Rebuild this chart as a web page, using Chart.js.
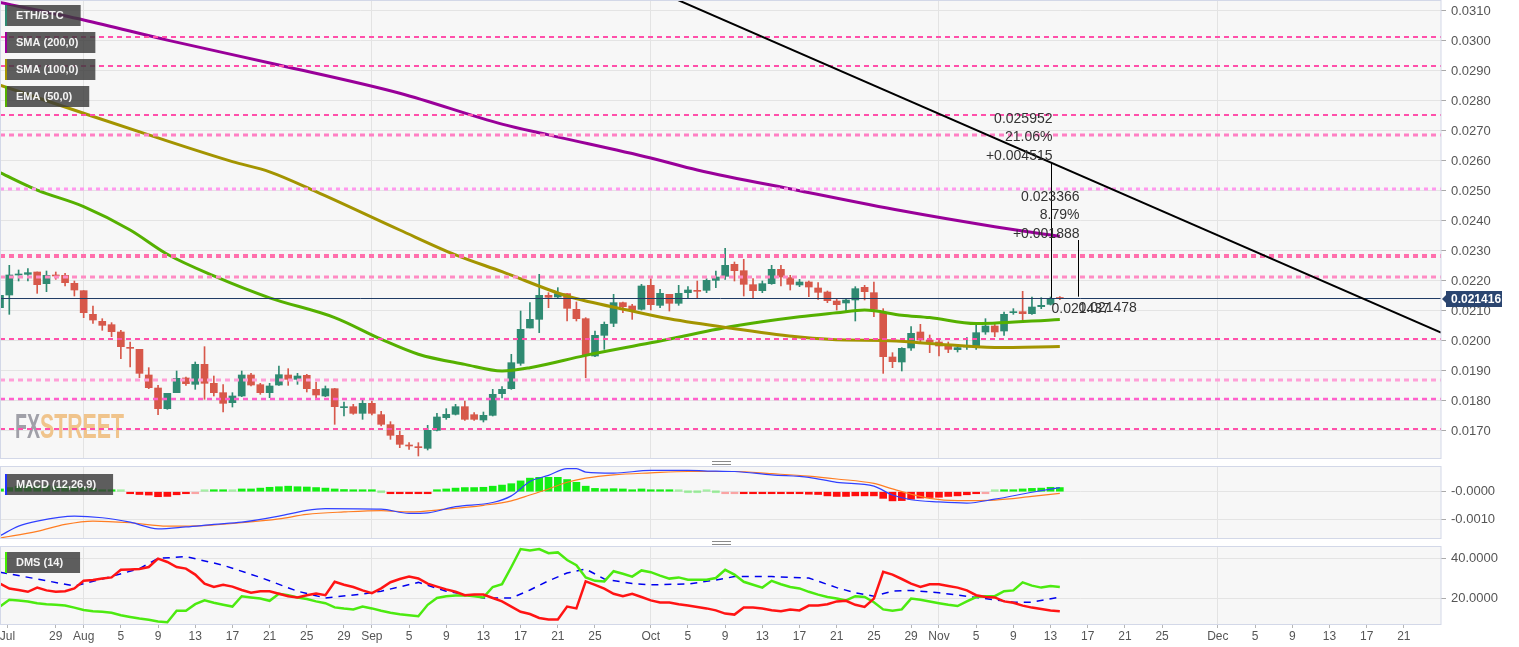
<!DOCTYPE html>
<html>
<head>
<meta charset="utf-8">
<title>ETH/BTC</title>
<script src="https://cdn.jsdelivr.net/npm/chart.js@4.4.0/dist/chart.umd.min.js"></script>
<style>
    body { margin: 0; background: #fff; width: 1519px; height: 647px; overflow: hidden; }
    .pane { position: absolute; left: 0; width: 1519px; }
    .grip { position: absolute; left: 712px; width: 19px; height: 2px; border-top: 1px solid #8a8a8a; border-bottom: 1px solid #8a8a8a; }
</style>
</head>
<body>
<div class="pane" style="top:0;height:460px"><canvas id="priceChart"></canvas></div>
<div class="pane" style="top:462px;height:78px"><canvas id="macdChart"></canvas></div>
<div class="pane" style="top:544px;height:103px"><canvas id="dmsChart"></canvas></div>
<div class="grip" style="top:461px"></div>
<div class="grip" style="top:541px"></div>

<script>
// daily candles, index 0 = 23 Jul, last one = 14 Nov
const candleOpen = [
    0.021111, 0.021533, 0.022200, 0.022222, 0.022300, 0.021911, 0.022189, 0.022189, 0.021922, 0.021678,
    0.020889, 0.020656, 0.020544, 0.020300, 0.019789, 0.019722, 0.018867, 0.018433, 0.017744, 0.018278,
    0.018767, 0.018556, 0.019222, 0.018589, 0.018278, 0.017944, 0.018167, 0.018867, 0.018544, 0.018278,
    0.018533, 0.018867, 0.018722, 0.018856, 0.018389, 0.018167, 0.018411, 0.017778, 0.017811, 0.017589,
    0.017922, 0.017544, 0.017211, 0.016856, 0.016533, 0.016478, 0.016422, 0.017022, 0.017444, 0.017556,
    0.017811, 0.017544, 0.017367, 0.017522, 0.018244, 0.018411, 0.019256, 0.020433, 0.020722, 0.021522,
    0.021467, 0.021578, 0.021056, 0.020744, 0.019500, 0.020189, 0.020589, 0.021278, 0.021167, 0.021056,
    0.021856, 0.021189, 0.021556, 0.021256, 0.021611, 0.021689, 0.021689, 0.022022, 0.022156, 0.022556,
    0.022344, 0.021878, 0.021678, 0.021911, 0.022389, 0.022111, 0.021867, 0.021967, 0.021767, 0.021633,
    0.021333, 0.021267, 0.021367, 0.021789, 0.021611, 0.020922, 0.019467, 0.019300, 0.019767, 0.020300,
    0.020033, 0.019967, 0.019889, 0.019711, 0.019800, 0.019811, 0.020300, 0.020500, 0.020333, 0.020944,
    0.020978, 0.020911, 0.021144, 0.021222, 0.021437
];
const candleClose = [
    0.021522, 0.022200, 0.022222, 0.022278, 0.021878, 0.022189, 0.022167, 0.021944, 0.021700, 0.020944,
    0.020700, 0.020522, 0.020311, 0.019811, 0.019756, 0.018922, 0.018444, 0.017744, 0.018256, 0.018756,
    0.018578, 0.019222, 0.018589, 0.018278, 0.017922, 0.018167, 0.018867, 0.018533, 0.018278, 0.018500,
    0.018878, 0.018722, 0.018833, 0.018411, 0.018200, 0.018411, 0.017811, 0.017811, 0.017589, 0.017922,
    0.017589, 0.017222, 0.016856, 0.016556, 0.016500, 0.016444, 0.017022, 0.017467, 0.017556, 0.017811,
    0.017389, 0.017389, 0.017522, 0.018222, 0.018389, 0.019278, 0.020389, 0.020722, 0.021522, 0.021456,
    0.021578, 0.021089, 0.020744, 0.019522, 0.020189, 0.020556, 0.021278, 0.021144, 0.021033, 0.021833,
    0.021211, 0.021589, 0.021256, 0.021589, 0.021700, 0.021656, 0.022022, 0.022133, 0.022522, 0.022344,
    0.021889, 0.021678, 0.021911, 0.022389, 0.022133, 0.021889, 0.021967, 0.021800, 0.021622, 0.021344,
    0.021211, 0.021367, 0.021744, 0.021644, 0.021056, 0.019478, 0.019311, 0.019756, 0.020256, 0.020033,
    0.019967, 0.019833, 0.019722, 0.019778, 0.019833, 0.020278, 0.020500, 0.020300, 0.020889, 0.020978,
    0.020911, 0.021133, 0.021189, 0.021389, 0.021416
];
const candleHigh = [
    0.021611, 0.022522, 0.022367, 0.022411, 0.022300, 0.022333, 0.022300, 0.022256, 0.022000, 0.021678,
    0.021167, 0.020744, 0.020611, 0.020356, 0.019967, 0.019722, 0.019111, 0.018522, 0.018256, 0.019000,
    0.018800, 0.019300, 0.019811, 0.018833, 0.018544, 0.018278, 0.019000, 0.018922, 0.018589, 0.018589,
    0.019167, 0.019078, 0.018922, 0.018889, 0.018633, 0.018500, 0.018422, 0.017967, 0.017889, 0.018033,
    0.018000, 0.017656, 0.017311, 0.017000, 0.016611, 0.016611, 0.017189, 0.017589, 0.017744, 0.017889,
    0.018000, 0.017611, 0.017633, 0.018389, 0.018478, 0.019556, 0.021000, 0.021278, 0.022222, 0.021611,
    0.021778, 0.021578, 0.021300, 0.020778, 0.020333, 0.020633, 0.021556, 0.021300, 0.021222, 0.021889,
    0.022078, 0.021722, 0.021556, 0.021856, 0.021811, 0.022000, 0.022078, 0.022333, 0.023089, 0.022633,
    0.022722, 0.022078, 0.022000, 0.022522, 0.022522, 0.022189, 0.022056, 0.022000, 0.021944, 0.021667,
    0.021389, 0.021389, 0.021811, 0.021856, 0.021967, 0.021078, 0.019611, 0.019778, 0.020478, 0.020556,
    0.020200, 0.020078, 0.019967, 0.019856, 0.020111, 0.020556, 0.020744, 0.020556, 0.020967, 0.021078,
    0.021656, 0.021467, 0.021444, 0.021467, 0.021478
];
const candleLow = [
    0.021000, 0.020889, 0.022000, 0.022000, 0.021589, 0.021644, 0.022056, 0.021833, 0.021500, 0.020778,
    0.020589, 0.020356, 0.020144, 0.019411, 0.019133, 0.018778, 0.018411, 0.017544, 0.017722, 0.018278,
    0.018522, 0.018389, 0.018056, 0.018167, 0.017633, 0.017800, 0.018144, 0.018500, 0.018222, 0.018111,
    0.018522, 0.018522, 0.018556, 0.018300, 0.018056, 0.018144, 0.017222, 0.017500, 0.017556, 0.017389,
    0.017533, 0.017167, 0.016722, 0.016444, 0.016389, 0.016167, 0.016367, 0.017000, 0.017389, 0.017533,
    0.017356, 0.017356, 0.017300, 0.017500, 0.018100, 0.018389, 0.019189, 0.020433, 0.020278, 0.021111,
    0.021444, 0.020667, 0.020667, 0.018778, 0.019478, 0.019722, 0.020478, 0.020944, 0.020722, 0.021033,
    0.021033, 0.021111, 0.021000, 0.021189, 0.021411, 0.021422, 0.021611, 0.021778, 0.022056, 0.022000,
    0.021500, 0.021411, 0.021611, 0.021889, 0.021833, 0.021700, 0.021811, 0.021478, 0.021389, 0.021278,
    0.021033, 0.020944, 0.020667, 0.021367, 0.020811, 0.018922, 0.019111, 0.019000, 0.019689, 0.019944,
    0.019611, 0.019500, 0.019611, 0.019633, 0.019722, 0.019722, 0.020222, 0.020144, 0.020189, 0.020889,
    0.020711, 0.020889, 0.021078, 0.021200, 0.021380
];

// moving averages, read at a few days each
const sma200Days = [0, 9, 18, 30, 43, 54, 59, 70, 75, 86, 97, 107, 114];
const sma200 = [0.03128, 0.0307, 0.03003, 0.0292, 0.02826, 0.02723, 0.02687, 0.0261, 0.0257, 0.02501, 0.02434, 0.02381, 0.02349];
const sma100Days = [0, 9, 16, 25, 29, 34, 43, 49, 54, 61, 68, 72, 79, 86, 91, 95, 100, 107, 114];
const sma100 = [0.02853, 0.02759, 0.02687, 0.02598, 0.02564, 0.02498, 0.0237, 0.02287, 0.02231, 0.0215, 0.0210, 0.02074, 0.02041, 0.02013, 0.02003, 0.02002, 0.01992, 0.01978, 0.01982];
const ema50Days = [0, 4, 9, 14, 18, 23, 29, 36, 41, 45, 50, 54, 57, 63, 70, 79, 86, 90, 93, 97, 100, 105, 114];
const ema50 = [0.02561, 0.02503, 0.02448, 0.0237, 0.02289, 0.02217, 0.02144, 0.02078, 0.02006, 0.01956, 0.01922, 0.019, 0.01911, 0.01952, 0.01994, 0.0205, 0.02081, 0.02094, 0.02103, 0.02086, 0.02078, 0.02058, 0.02072];

// horizontal levels, trend line, last price, measure tool
const levels = [0.030133, 0.029167, 0.027533, 0.026867, 0.025067, 0.022833, 0.022133, 0.020067, 0.0187, 0.018067, 0.017067];
const lastPrice = 0.021416;
const trendDays = [60, 155];
const trendValues = [0.03311, 0.02028];
const measureDays = [113, 116];
const measureFrom = [0.021437, 0.021478];
const measureTo = [0.025952, 0.023366];

// MACD (12,26,9)
const macdHist = [
    0.0001, 0.00015, 0.0002, 0.00022, 0.00022, 0.00022, 0.0002, 0.0002, 0.00017, 0.00016,
    0.00012, 0.00007, 0.00004, 0.00001, -0.00002, -0.0001, -0.00012, -0.00018, -0.00017, -0.00011,
    -0.00006, -0.00001, 0.00001, 0.00002, 0.00002, 0.00001, 0.0001, 0.0001, 0.00013, 0.00016,
    0.00018, 0.0002, 0.00018, 0.00017, 0.00015, 0.00013, 0.0001, 0.00008, 0.00005, 0.00005,
    0.00002, 0.0, -0.00002, -0.00005, -0.00005, -0.00005, -0.00002, 0.00002, 0.0001, 0.00013,
    0.00015, 0.00015, 0.00016, 0.0002, 0.00024, 0.00029, 0.00039, 0.00049, 0.00052, 0.00052,
    0.00052, 0.00044, 0.00034, 0.0002, 0.00012, 0.0001, 0.00011, 0.0001, 0.00007, 0.0001,
    0.00006, 0.00005, 0.00002, 0.00001, 0.0, 0.0, 0.00001, 0.0, -0.00001, -0.00001,
    -0.00002, -0.00003, -0.00005, -0.00004, -0.00005, -0.00006, -0.00007, -0.00009, -0.0001, -0.00015,
    -0.00017, -0.00017, -0.00015, -0.00015, -0.00015, -0.00024, -0.00033, -0.00032, -0.00027, -0.00023,
    -0.00021, -0.0002, -0.00017, -0.00015, -0.00011, -0.00006, -0.00001, 0.00001, 0.00002, 0.00005,
    0.0001, 0.00012, 0.00013, 0.00016, 0.00015
];
const macdDays = [0, 2, 4, 8, 11, 14, 17, 20, 23, 26, 30, 33, 35, 41, 44, 46, 49, 53, 55, 57, 59, 61, 62, 63, 66, 70, 74, 77, 79, 83, 87, 90, 94, 96, 98, 101, 104, 107, 111, 114];
const macdLine = [-0.00159, -0.00124, -0.00106, -0.00088, -0.00094, -0.0011, -0.00134, -0.00127, -0.00118, -0.0011, -0.00088, -0.00067, -0.00061, -0.00063, -0.00078, -0.00076, -0.00054, -0.00039, -0.00015, 0.00037, 0.00059, 0.00083, 0.00083, 0.00071, 0.00067, 0.00077, 0.00077, 0.00074, 0.00073, 0.00061, 0.00052, 0.00034, 0.0002, -0.00012, -0.00029, -0.00037, -0.00041, -0.00027, -0.00002, 0.00015];
const signalDays = [0, 4, 7, 10, 14, 18, 22, 26, 30, 33, 37, 41, 44, 48, 52, 55, 57, 59, 61, 63, 66, 70, 74, 79, 83, 87, 90, 94, 96, 98, 100, 103, 107, 111, 114];
const signalLine = [-0.00167, -0.00143, -0.00118, -0.00106, -0.00112, -0.00124, -0.00122, -0.00112, -0.00098, -0.00082, -0.00073, -0.00068, -0.00073, -0.00063, -0.00049, -0.00033, -0.00012, 0.0001, 0.00034, 0.00049, 0.00061, 0.00068, 0.00073, 0.00073, 0.00065, 0.00056, 0.00046, 0.0003, 0.0001, -0.00009, -0.00024, -0.00032, -0.0003, -0.00017, -0.00006];

// DMS (14)
const diPlus = [
    15.7, 19.1, 18.8, 18.3, 17.4, 16.9, 16.6, 16.2, 15.2, 14.0,
    13.4, 13.1, 12.6, 11.4, 10.5, 9.7, 9.1, 8.3, 7.9, 13.6,
    13.6, 16.9, 18.8, 17.6, 16.6, 15.7, 20.9, 20.3, 19.7, 18.6,
    22.1, 21.4, 20.3, 19.5, 18.3, 17.4, 15.3, 14.7, 14.3, 15.7,
    14.8, 13.6, 12.6, 11.9, 11.4, 10.9, 16.6, 20.0, 20.9, 21.2,
    21.4, 20.9, 20.3, 25.5, 26.9, 35.5, 44.5, 43.8, 44.5, 42.4,
    42.8, 39.0, 36.4, 30.3, 28.6, 28.3, 33.4, 32.1, 30.7, 33.8,
    32.9, 31.2, 29.7, 30.3, 29.1, 29.1, 29.1, 30.0, 34.1, 31.7,
    28.1, 26.6, 25.2, 28.6, 26.9, 25.5, 24.8, 23.1, 21.7, 20.5,
    19.7, 18.8, 20.9, 20.5, 17.9, 14.3, 13.6, 14.3, 19.7, 19.1,
    18.3, 17.4, 16.6, 16.0, 18.3, 20.5, 20.9, 20.9, 23.4, 23.8,
    27.8, 26.2, 25.2, 26.0, 25.5
];
const diMinus = [
    27.2, 24.7, 24.0, 23.1, 25.2, 23.8, 23.1, 23.4, 24.8, 28.6,
    29.0, 29.7, 30.3, 34.1, 34.3, 34.5, 35.5, 39.7, 38.0, 35.5,
    34.7, 31.7, 27.2, 25.5, 26.6, 25.7, 24.0, 22.6, 23.4, 23.4,
    22.1, 20.9, 20.3, 21.4, 22.2, 21.4, 28.1, 26.6, 25.5, 23.8,
    22.4, 24.8, 27.9, 29.5, 30.7, 29.8, 27.2, 25.7, 24.3, 23.1,
    21.4, 21.7, 21.7, 20.0, 18.3, 15.7, 13.1, 12.0, 10.0, 9.3,
    9.3, 15.7, 14.8, 28.3, 26.6, 24.7, 22.1, 20.9, 22.1, 20.5,
    18.8, 17.8, 17.8, 16.9, 16.2, 15.5, 14.8, 13.8, 12.2, 11.7,
    15.2, 15.3, 14.8, 13.9, 13.4, 14.3, 13.8, 16.2, 16.2, 16.9,
    18.3, 18.6, 16.6, 15.5, 19.7, 33.1, 31.7, 29.5, 27.2, 25.5,
    26.9, 26.9, 26.0, 25.2, 23.8, 21.4, 20.5, 20.3, 18.3, 17.6,
    16.2, 15.2, 14.5, 13.8, 13.4
];
const adxDays = [0, 4, 8, 11, 15, 17, 20, 24, 28, 32, 35, 39, 41, 45, 48, 52, 55, 57, 59, 61, 63, 65, 68, 70, 74, 77, 79, 83, 87, 90, 92, 94, 96, 98, 101, 105, 109, 111, 114];
const adx = [32.9, 29.5, 26.0, 29.5, 34.7, 39.8, 40.7, 36.4, 30.3, 23.4, 20.0, 22.0, 23.4, 27.8, 23.4, 20.0, 20.0, 24.0, 28.6, 32.5, 34.5, 29.5, 27.2, 26.6, 27.0, 29.0, 30.7, 30.7, 30.0, 25.2, 22.6, 20.9, 23.4, 23.8, 22.6, 20.3, 17.9, 17.9, 20.5];

// axes
const xTickDays = [0.8, 6, 9, 13, 17, 21, 25, 29, 33, 37, 40, 44, 48, 52, 56, 60, 64, 70, 74, 78, 82, 86, 90, 94, 98, 101, 105, 109, 113, 117, 121, 125, 131, 135, 139, 143, 147, 151];
const xTickLabels = ["Jul", "29", "Aug", "5", "9", "13", "17", "21", "25", "29", "Sep", "5", "9", "13", "17", "21", "25", "Oct", "5", "9", "13", "17", "21", "25", "29", "Nov", "5", "9", "13", "17", "21", "25", "Dec", "5", "9", "13", "17", "21"];
const monthStarts = [9, 40, 70, 101, 131];
const priceTicks = [0.017, 0.018, 0.019, 0.020, 0.021, 0.022, 0.023, 0.024, 0.025, 0.026, 0.027, 0.028, 0.029, 0.030, 0.031];
const macdTicks = [-0.001, 0];
const dmsTicks = [20, 40];

const priceTags = ["ETH/BTC", "SMA (200,0)", "SMA (100,0)", "EMA (50,0)"];
const priceTagColors = ["#2f8a72", "#990099", "#a39400", "#55b000"];

const FONT = "'Liberation Sans', Arial, Helvetica, sans-serif";
const UP = "#2f8a72";
const DOWN = "#d7584a";
const levelStyles = [
    { c: "#ff4faa", w: 2, d: [5, 4] },
    { c: "#ff4faa", w: 2, d: [5, 4] },
    { c: "#ff4faa", w: 2, d: [5, 4] },
    { c: "#ff80c4", w: 3, d: [5, 4] },
    { c: "#ff99ee", w: 3, d: [4, 4] },
    { c: "#ff70ac", w: 4, d: [5, 4] },
    { c: "#ff8cc4", w: 3, d: [5, 4] },
    { c: "#ff4faa", w: 2, d: [5, 4] },
    { c: "#ffa0d8", w: 3, d: [5, 4] },
    { c: "#ff5fcc", w: 2.5, d: [5, 4] },
    { c: "#ff4faa", w: 2, d: [5, 4] }
];

Chart.defaults.font.family = FONT;
Chart.defaults.animation = false;
Chart.defaults.plugins.legend.display = false;
Chart.defaults.plugins.tooltip.enabled = false;
Chart.defaults.elements.point.radius = 0;

function points(days, values) {
    return days.map((d, i) => ({ x: d, y: values[i] }));
}

function daily(values) {
    return values.map((v, i) => ({ x: i, y: v }));
}

function xScale(showLabels) {
    return {
        type: "linear",
        min: 0,
        max: 155,
        offset: false,
        afterBuildTicks: (s) => { s.ticks = xTickDays.map((v) => ({ value: v })); },
        afterFit: (s) => {
            s.paddingLeft = 0;
            s.paddingRight = 0;
            s.height = showLabels ? 23 : 0;
        },
        grid: {
            offset: false,
            color: (c) => (c.tick && monthStarts.includes(c.tick.value)) ? "#e3e3e3" : "rgba(0,0,0,0)",
            tickColor: "#b5b5b5",
            drawTicks: showLabels,
            tickLength: 4
        },
        border: { display: false },
        ticks: {
            display: showLabels,
            autoSkip: false,
            maxRotation: 0,
            padding: 1,
            color: "#555",
            font: { size: 12 },
            callback: (v, i) => xTickLabels[i]
        }
    };
}

function yScale(min, max, ticks, format) {
    return {
        position: "right",
        min: min,
        max: max,
        afterBuildTicks: (s) => { s.ticks = ticks.map((v) => ({ value: v })); },
        afterFit: (s) => {
            s.width = 78;
            s.paddingTop = 0;
            s.paddingBottom = 0;
        },
        grid: { color: "#e4e4e4", tickColor: "#aaa", tickLength: 5 },
        border: { display: false },
        ticks: { color: "#555", padding: 5, font: { size: 13 }, callback: format }
    };
}

function drawTag(ctx, x, y, text, accent) {
    ctx.save();
    ctx.font = "bold 11px " + FONT;
    const w = ctx.measureText(text).width + 28;
    ctx.fillStyle = "rgba(58,58,58,0.82)";
    ctx.fillRect(x, y, w, 21);
    ctx.fillStyle = accent;
    ctx.fillRect(x, y, 2, 21);
    ctx.fillStyle = "#f4f4f4";
    ctx.textBaseline = "middle";
    ctx.fillText(text, x + 11, y + 11);
    ctx.restore();
}

// background + frame of every pane
const panePlugin = {
    id: "pane",
    beforeDraw(chart) {
        const a = chart.chartArea;
        chart.ctx.save();
        chart.ctx.fillStyle = "#f7f7f7";
        chart.ctx.fillRect(a.left, a.top, a.right - a.left, a.bottom - a.top);
        chart.ctx.restore();
    },
    afterDraw(chart) {
        const a = chart.chartArea;
        const ctx = chart.ctx;
        ctx.save();
        ctx.strokeStyle = "#d3d8e8";
        ctx.lineWidth = 1;
        ctx.strokeRect(a.left + 0.5, a.top - 0.5, a.right - a.left - 0.5, a.bottom - a.top + 1);
        ctx.restore();
    }
};

const pricePlugin = {
    id: "priceExtras",
    beforeDatasetsDraw(chart) {
        const ctx = chart.ctx;
        ctx.save();
        ctx.font = "bold 35px " + FONT;
        ctx.fillStyle = "#a0a0a8";
        ctx.fillText("FX", 15, 438, 25);
        ctx.fillStyle = "#f0c48c";
        ctx.fillText("STREET", 40, 438, 84);
        ctx.restore();
    },
    afterDraw(chart) {
        const ctx = chart.ctx;
        const x = chart.scales.x;
        const y = chart.scales.y;
        const a = chart.chartArea;

        ctx.save();
        // measure tool
        ctx.strokeStyle = "#000";
        ctx.lineWidth = 1;
        ctx.fillStyle = "#333";
        ctx.font = "14px " + FONT;
        ctx.textBaseline = "middle";
        measureDays.forEach((d, i) => {
            const px = Math.round(x.getPixelForValue(d)) + 0.5;
            const y0 = y.getPixelForValue(measureFrom[i]);
            const y1 = y.getPixelForValue(measureTo[i]);
            ctx.beginPath();
            ctx.moveTo(px, y0);
            ctx.lineTo(px, y1);
            ctx.stroke();
            const diff = measureTo[i] - measureFrom[i];
            ctx.textAlign = "right";
            ctx.fillText(measureTo[i].toFixed(6), px + 1, y1 - 43);
            ctx.fillText((diff / measureFrom[i] * 100).toFixed(2) + "%", px + 1, y1 - 25);
            ctx.fillText("+" + diff.toFixed(6), px + 1, y1 - 6);
            ctx.textAlign = "left";
            ctx.fillText(measureFrom[i].toFixed(6), px, y0 + 11);
        });

        // last price tag on the axis
        const py = Math.round(y.getPixelForValue(lastPrice));
        ctx.fillStyle = "#2b4570";
        ctx.beginPath();
        ctx.moveTo(a.right + 1, py);
        ctx.lineTo(a.right + 6, py - 5);
        ctx.lineTo(a.right + 6, py + 5);
        ctx.closePath();
        ctx.fill();
        ctx.fillRect(a.right + 5, py - 8, 56, 16);
        ctx.fillStyle = "#fff";
        ctx.font = "bold 12px " + FONT;
        ctx.textAlign = "left";
        ctx.fillText(lastPrice.toFixed(6), a.right + 10, py + 1);
        ctx.restore();

        priceTags.forEach((t, i) => drawTag(ctx, 5, 5 + i * 27, t, priceTagColors[i]));
    }
};

function tagPlugin(text, accent, top) {
    return {
        id: "tag",
        afterDraw(chart) { drawTag(chart.ctx, 5, top, text, accent); }
    };
}

const candleDays = candleOpen.map((o, i) => i);
const candleColors = candleOpen.map((o, i) => candleClose[i] >= o ? UP : DOWN);

const priceSets = [
    {
        type: "bar",
        data: candleDays.map((i) => ({ x: i, y: [candleLow[i], candleHigh[i]] })),
        backgroundColor: candleColors,
        barThickness: 1,
        grouped: false,
        order: 10
    },
    {
        type: "bar",
        data: candleDays.map((i) => ({ x: i, y: [candleOpen[i], candleClose[i]] })),
        backgroundColor: candleColors,
        barThickness: 7,
        minBarLength: 1,
        grouped: false,
        order: 9
    },
    { type: "line", data: points(sma200Days, sma200), borderColor: "#990099", borderWidth: 3, cubicInterpolationMode: "monotone", order: 6 },
    { type: "line", data: points(sma100Days, sma100), borderColor: "#a39400", borderWidth: 3, cubicInterpolationMode: "monotone", order: 6 },
    { type: "line", data: points(ema50Days, ema50), borderColor: "#55b000", borderWidth: 3, cubicInterpolationMode: "monotone", order: 6 }
];
levels.forEach((v, i) => {
    priceSets.push({
        type: "line",
        data: [{ x: 0, y: v }, { x: 155, y: v }],
        borderColor: levelStyles[i].c,
        borderWidth: levelStyles[i].w,
        borderDash: levelStyles[i].d,
        order: 4
    });
});
priceSets.push({ type: "line", data: [{ x: 0, y: lastPrice }, { x: 155, y: lastPrice }], borderColor: "#1f3b64", borderWidth: 1, order: 3 });
priceSets.push({ type: "line", data: points(trendDays, trendValues), borderColor: "#000", borderWidth: 2, order: 2 });

new Chart(document.getElementById("priceChart"), {
    type: "bar",
    data: { datasets: priceSets },
    options: {
        responsive: true,
        maintainAspectRatio: false,
        layout: { padding: { top: 1, bottom: 2, left: 0, right: 0 } },
        scales: {
            x: xScale(false),
            y: yScale(0.0161, 0.031333, priceTicks, (v) => v.toFixed(4))
        }
    },
    plugins: [panePlugin, pricePlugin]
});

function histColor(v) {
    if (Math.abs(v) < 0.000015) return v >= 0 ? "rgba(40,230,40,0.4)" : "rgba(255,40,40,0.4)";
    return v >= 0 ? "#14ee14" : "#ff0d0d";
}

new Chart(document.getElementById("macdChart"), {
    type: "bar",
    data: {
        datasets: [
            {
                type: "bar",
                data: daily(macdHist),
                backgroundColor: macdHist.map(histColor),
                barThickness: 7,
                minBarLength: 2,
                grouped: false,
                order: 3
            },
            { type: "line", data: points(macdDays, macdLine), borderColor: "#3040ff", borderWidth: 1.2, cubicInterpolationMode: "monotone", order: 1 },
            { type: "line", data: points(signalDays, signalLine), borderColor: "#ff7d22", borderWidth: 1.2, cubicInterpolationMode: "monotone", order: 2 }
        ]
    },
    options: {
        responsive: true,
        maintainAspectRatio: false,
        layout: { padding: { top: 5, bottom: 2, left: 0, right: 0 } },
        scales: {
            x: xScale(false),
            y: yScale(-0.00167, 0.000892, macdTicks, (v) => v === 0 ? "-0.0000" : v.toFixed(4))
        }
    },
    plugins: [panePlugin, tagPlugin("MACD (12,26,9)", "#2233ff", 12)]
});

new Chart(document.getElementById("dmsChart"), {
    type: "line",
    data: {
        datasets: [
            { data: points(adxDays, adx), borderColor: "#0000ee", borderWidth: 1.5, borderDash: [7, 6], order: 3 },
            { data: daily(diPlus), borderColor: "#4cea10", borderWidth: 2.5, order: 2 },
            { data: daily(diMinus), borderColor: "#ff1414", borderWidth: 2.5, order: 1 }
        ]
    },
    options: {
        responsive: true,
        maintainAspectRatio: false,
        layout: { padding: { top: 3, bottom: 0, left: 0, right: 0 } },
        scales: {
            x: xScale(true),
            y: yScale(7, 45.5, dmsTicks, (v) => v.toFixed(4))
        }
    },
    plugins: [panePlugin, tagPlugin("DMS (14)", "#44ee00", 8)]
});
</script>
</body>
</html>
